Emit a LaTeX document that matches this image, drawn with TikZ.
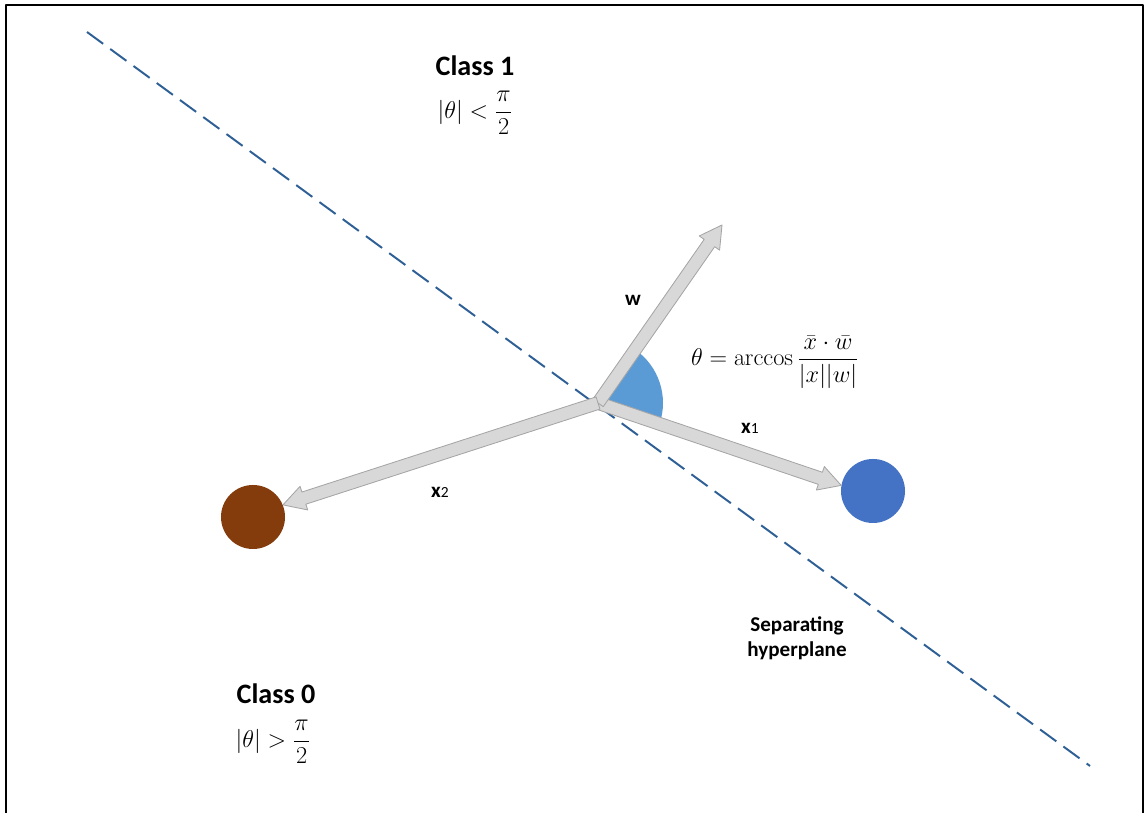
\documentclass[tikz,border=0pt]{standalone}
\usepackage{amsmath,amssymb}
\usepackage[no-math]{fontspec}
\setmainfont{Carlito}
\usepackage{tikz}
\usetikzlibrary{calc}
\usepackage{xcolor}
\definecolor{planeblue}{RGB}{46,96,150}
\definecolor{wedgeblue}{RGB}{91,155,213}
\definecolor{ptblue}{RGB}{68,114,196}
\definecolor{ptbrown}{RGB}{132,60,12}
\definecolor{arrfill}{RGB}{216,216,216}
\definecolor{arrline}{RGB}{165,165,165}

% block arrow: name, from, to
\newcommand{\blockarrow}[3]{%
  \coordinate (#1h) at ($(#3)!0.55cm!(#2)$);
  \draw[blockarr] ($(#2)!0.16cm!90:(#3)$) -- ($(#1h)!0.16cm!-90:(#2)$)
    -- ($(#1h)!0.31cm!-90:(#2)$) -- (#3) -- ($(#1h)!0.31cm!90:(#2)$)
    -- ($(#1h)!0.16cm!90:(#2)$) -- ($(#2)!0.16cm!-90:(#3)$) -- cycle;}

\begin{document}
\begin{tikzpicture}[x=0.025cm,y=0.025cm,line join=round,
  blockarr/.style={fill=arrfill,draw=arrline,line width=0.6pt},
  point/.style={circle,inner sep=0pt,minimum size=1.6cm},
  classlbl/.style={font=\fontsize{20}{24}\selectfont\bfseries},
  veclbl/.style={font=\fontsize{15}{18}\selectfont\bfseries}]
\useasboundingbox (0,0) rectangle (1145,813);
% frame
\draw[line width=1.6pt] (6,0) -- (6,808) -- (1143,808) -- (1143,0);
% hyperplane
\draw[planeblue,line width=1.4pt,dash pattern=on 0.5cm off 0.22cm] (87,781) -- (1090,47);
% points
\coordinate (o) at (598,410);
\node[point,fill=ptblue] (bluept) at (873,322) {};
\node[point,fill=ptbrown] (brownpt) at (253,296) {};
\coordinate (wtip) at (722,588);
% angle
\fill[wedgeblue] (o) -- ++(-18.6:65) arc (-18.6:55.1:65) -- cycle;
% vectors
\blockarrow{xa}{o}{bluept.170}
\blockarrow{wv}{o}{wtip}
\blockarrow{xb}{o}{brownpt.22}
% labels
\node[veclbl] (wlbl) at (633,513) {w};
\node[veclbl] (xalbl) at (750,385) {x{\mdseries\fontsize{11}{12}\selectfont 1}};
\node[veclbl] (xblbl) at (440,321) {x{\mdseries\fontsize{11}{12}\selectfont 2}};
\node[font=\fontsize{17}{20}\selectfont] (eq) at (775,451)
  {$\theta=\arccos\dfrac{\bar{x}\cdot\bar{w}}{|x||w|}$};
\node[classlbl] (c1) at (475,747) {Class 1};
\node[font=\fontsize{17}{20}\selectfont] (c1eq) at (475,700) {$|\theta|<\dfrac{\pi}{2}$};
\node[classlbl] (c0) at (276,119) {Class 0};
\node[font=\fontsize{17}{20}\selectfont] (c0eq) at (273,71) {$|\theta|>\dfrac{\pi}{2}$};
\node[font=\fontsize{15}{18}\selectfont\bfseries,align=center] (plane) at (797,175)
  {Separating\\hyperplane};
\end{tikzpicture}
\end{document}
